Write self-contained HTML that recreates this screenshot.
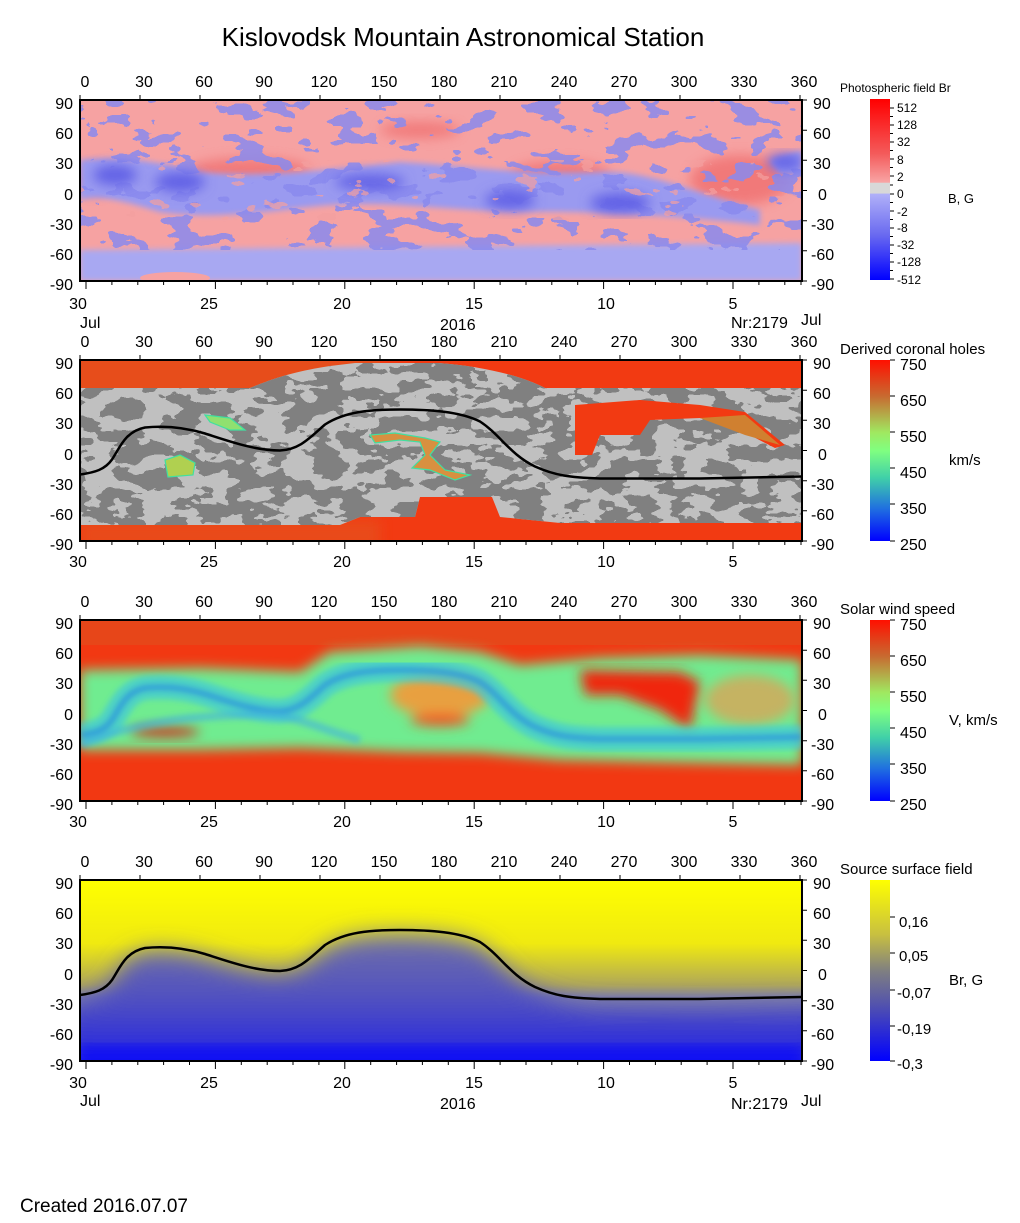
<!DOCTYPE html>
<html><head><meta charset="utf-8"><style>
html,body{margin:0;padding:0;background:#fff;}
svg{display:block;font-family:"Liberation Sans",Arial,sans-serif;}
</style></head><body>
<svg width="1020" height="1223" viewBox="0 0 1020 1223" xmlns="http://www.w3.org/2000/svg">
<defs>
 <clipPath id="pc"><rect x="80" y="0" width="722" height="181"/></clipPath>
 <filter id="n1" x="0" y="0" width="1" height="1">
  <feTurbulence type="fractalNoise" baseFrequency="0.03 0.06" numOctaves="3" seed="7"/>
  <feColorMatrix type="matrix" values="0 0 0 0 0  0 0 0 0 0  0 0 0 0 0  1 0 0 0 0"/>
  <feComponentTransfer result="m"><feFuncA type="discrete" tableValues="0 0 0 0 0 0 1 1 1 1"/></feComponentTransfer>
  <feFlood flood-color="#8a8aee" result="f"/>
  <feComposite in="f" in2="m" operator="in"/>
 </filter>
 <filter id="n1r" x="0" y="0" width="1" height="1">
  <feTurbulence type="fractalNoise" baseFrequency="0.035 0.07" numOctaves="3" seed="21"/>
  <feColorMatrix type="matrix" values="0 0 0 0 0  0 0 0 0 0  0 0 0 0 0  1 0 0 0 0"/>
  <feComponentTransfer result="m"><feFuncA type="discrete" tableValues="0 0 0 0 0 0 0 1 1 1"/></feComponentTransfer>
  <feFlood flood-color="#f4a0a0" result="f"/>
  <feComposite in="f" in2="m" operator="in"/>
 </filter>
 <filter id="ng" x="0" y="0" width="1" height="1">
  <feTurbulence type="fractalNoise" baseFrequency="0.035 0.07" numOctaves="3" seed="4"/>
  <feColorMatrix type="matrix" values="0 0 0 0 0  0 0 0 0 0  0 0 0 0 0  1 0 0 0 0"/>
  <feComponentTransfer result="m"><feFuncA type="discrete" tableValues="0 0 0 0 0 1 1 1 1 1"/></feComponentTransfer>
  <feFlood flood-color="#808080" result="f"/>
  <feComposite in="f" in2="m" operator="in"/>
 </filter>
 <filter id="b3"><feGaussianBlur stdDeviation="3"/></filter>
 <filter id="b6"><feGaussianBlur stdDeviation="6"/></filter>
 <filter id="b12" x="-0.1" y="-0.3" width="1.2" height="1.6"><feGaussianBlur stdDeviation="12"/></filter>
 <linearGradient id="cb1" x1="0" y1="0" x2="0" y2="1">
  <stop offset="0" stop-color="#ff0000"/><stop offset="0.3" stop-color="#f45a5a"/><stop offset="0.46" stop-color="#f8a4a4"/>
  <stop offset="0.465" stop-color="#d8d8d8"/><stop offset="0.52" stop-color="#d8d8d8"/><stop offset="0.525" stop-color="#b0b0f8"/>
  <stop offset="0.75" stop-color="#6a6af0"/><stop offset="1" stop-color="#0000ff"/>
 </linearGradient>
 <linearGradient id="cbj" x1="0" y1="0" x2="0" y2="1">
  <stop offset="0" stop-color="#ff1000"/><stop offset="0.2" stop-color="#c86a30"/><stop offset="0.4" stop-color="#a0e860"/>
  <stop offset="0.5" stop-color="#80ff80"/><stop offset="0.65" stop-color="#40d0a8"/><stop offset="0.82" stop-color="#2070e0"/><stop offset="1" stop-color="#0000ff"/>
 </linearGradient>
 <linearGradient id="cbs" x1="0" y1="0" x2="0" y2="1">
  <stop offset="0" stop-color="#ffff00"/><stop offset="0.3" stop-color="#c8c040"/><stop offset="0.5" stop-color="#808080"/>
  <stop offset="0.7" stop-color="#5050b0"/><stop offset="1" stop-color="#0000ff"/>
 </linearGradient>
 <linearGradient id="p4t" x1="0" y1="0" x2="0" y2="1">
  <stop offset="0" stop-color="#ffff00"/><stop offset="0.35" stop-color="#f0ea10"/><stop offset="0.58" stop-color="#b0a858"/><stop offset="0.65" stop-color="#8888a0"/>
 </linearGradient>
 <linearGradient id="p4b" x1="0" y1="0" x2="0" y2="1">
  <stop offset="0" stop-color="#7070a8"/><stop offset="0.45" stop-color="#5050c0"/><stop offset="0.75" stop-color="#3030d8"/><stop offset="1" stop-color="#0000ff"/>
 </linearGradient>
 <path id="nl" d="M80,115 C95,113 105,110 112,100 C120,88 125,72 145,68 C165,66 185,68 205,74 C230,82 255,91 280,91 C300,90 310,78 325,65 C345,52 370,50 400,50 C430,50 460,52 480,62 C500,75 510,95 535,107 C555,116 570,118 600,119 L700,119 L802,117"/>
 <path id="tt" d="M80,0v-5M140,0v-5M200,0v-5M260,0v-5M320,0v-5M380,0v-5M440,0v-5M500,0v-5M560,0v-5M620,0v-5M680,0v-5M740,0v-5M800,0v-5"/>
 <path id="rt" d="M802,0h5M802,30.2h5M802,60.3h5M802,90.5h5M802,120.7h5M802,150.8h5M802,181h5"/>
 <path id="bt" d="M86,181v8M215.4,181v8M344.8,181v8M474.2,181v8M603.6,181v8M733,181v8M111.9,181v4M137.8,181v4M163.6,181v4M189.5,181v4M241.3,181v4M267.2,181v4M293,181v4M318.9,181v4M370.7,181v4M396.6,181v4M422.4,181v4M448.3,181v4M500.1,181v4M526,181v4M551.8,181v4M577.7,181v4M629.5,181v4M655.4,181v4M681.2,181v4M707.1,181v4M758.9,181v4M784.8,181v4M801,181v4"/>
</defs>

<text x="463" y="46" font-size="26" text-anchor="middle">Kislovodsk Mountain Astronomical Station</text>

<!-- ============ PANEL 1 ============ -->
<g transform="translate(0,100)">
 <g clip-path="url(#pc)">
  <rect x="80" y="0" width="722" height="181" fill="#f6a2a2"/>
  <g fill="#f07070" filter="url(#b6)" opacity="0.8">
   <ellipse cx="250" cy="70" rx="60" ry="12"/><ellipse cx="560" cy="75" rx="50" ry="14"/><ellipse cx="740" cy="80" rx="50" ry="25"/>
   <ellipse cx="95" cy="80" rx="15" ry="14"/><ellipse cx="420" cy="30" rx="40" ry="8"/>
  </g>
  <g fill="#9a9af0" filter="url(#b3)">
   <path d="M80,60 C120,55 160,62 200,72 C260,78 330,70 400,62 C470,66 520,75 600,72 C650,70 700,95 760,110 L760,125 C700,118 600,110 520,112 C430,110 380,98 300,108 C240,115 200,118 160,112 C120,100 100,95 80,100 Z"/>
   <path d="M80,150 L802,143 L802,181 L80,181 Z" fill="#a8a8f2"/>
   <path d="M770,60 L802,50 L802,75 L780,75Z"/>
  </g>
  <rect x="80" y="0" width="722" height="150" filter="url(#n1)" opacity="0.85"/>
  <g fill="#6262e6" filter="url(#b6)">
   <ellipse cx="115" cy="75" rx="22" ry="10"/><ellipse cx="180" cy="82" rx="25" ry="10"/><ellipse cx="370" cy="82" rx="35" ry="8"/>
   <ellipse cx="510" cy="100" rx="25" ry="9"/><ellipse cx="620" cy="103" rx="30" ry="10"/><ellipse cx="785" cy="62" rx="18" ry="8"/>
  </g>
  <rect x="80" y="60" width="722" height="60" filter="url(#n1r)" opacity="0.7"/>
  <ellipse cx="175" cy="178" rx="35" ry="6" fill="#f6a2a2"/>
 </g>
 <rect x="80" y="0" width="722" height="181" fill="none" stroke="#000" stroke-width="2"/>
 <use href="#tt" stroke="#000"/><use href="#rt" stroke="#000"/><use href="#bt" stroke="#000"/>
 <g font-size="16" text-anchor="middle">
  <text x="85" y="-13">0</text><text x="144" y="-13">30</text><text x="204" y="-13">60</text><text x="264" y="-13">90</text><text x="324" y="-13">120</text><text x="384" y="-13">150</text><text x="444" y="-13">180</text><text x="504" y="-13">210</text><text x="564" y="-13">240</text><text x="624" y="-13">270</text><text x="684" y="-13">300</text><text x="744" y="-13">330</text><text x="804" y="-13">360</text>
  <text x="78" y="209">30</text><text x="209" y="209">25</text><text x="342" y="209">20</text><text x="474" y="209">15</text><text x="606" y="209">10</text><text x="733" y="209">5</text>
 </g>
 <g font-size="16" text-anchor="end">
  <text x="73" y="9">90</text><text x="73" y="39">60</text><text x="73" y="69">30</text><text x="73" y="100">0</text><text x="73" y="130">-30</text><text x="73" y="160">-60</text><text x="73" y="190">-90</text>
 </g>
 <g font-size="16" text-anchor="start">
  <text x="813" y="9">90</text><text x="813" y="39">60</text><text x="813" y="69">30</text><text x="818" y="100">0</text><text x="811" y="130">-30</text><text x="811" y="160">-60</text><text x="811" y="190">-90</text>
 </g>
 <text x="80" y="228" font-size="16">Jul</text><text x="440" y="230" font-size="16">2016</text><text x="731" y="228" font-size="16">Nr:2179</text><text x="801" y="225" font-size="16">Jul</text>
 <text x="840" y="-8" font-size="12">Photospheric field Br</text>
 <rect x="870" y="-1" width="20" height="181" fill="url(#cb1)"/>
 <path d="M890,8h4M890,16.5h3M890,25h4M890,33.5h3M890,42h4M890,50.5h3M890,59h4M890,67.5h3M890,76h4M890,85h3M890,94h4M890,102.5h3M890,111h4M890,119.5h3M890,128h4M890,136.5h3M890,145h4M890,153.5h3M890,162h4M890,170.5h3M890,179h4" stroke="#000"/>
 <g font-size="12">
  <text x="897" y="12">512</text><text x="897" y="29">128</text><text x="897" y="46">32</text><text x="897" y="64">8</text><text x="897" y="81">2</text><text x="897" y="98">0</text><text x="897" y="116">-2</text><text x="897" y="132">-8</text><text x="897" y="149">-32</text><text x="897" y="166">-128</text><text x="897" y="184">-512</text>
 </g>
 <text x="948" y="103" font-size="13">B, G</text>
</g>

<!-- ============ PANEL 2 ============ -->
<g transform="translate(0,360)">
 <g clip-path="url(#pc)">
  <rect x="80" y="0" width="722" height="181" fill="#f23a12"/>
  <rect x="80" y="0" width="300" height="30" fill="#e05a22" opacity="0.6"/>
  <rect x="80" y="160" width="300" height="30" fill="#e05a22" opacity="0.5" filter="url(#b6)"/>
  <clipPath id="gc"><path d="M80,28 L250,28 C270,20 290,12 330,6 L355,3 L438,3 C480,6 520,15 545,28 L802,28 L802,163 L560,163 L500,157 L492,137 L420,137 L415,157 L360,157 L340,165 L80,165 Z"/></clipPath>
  <g clip-path="url(#gc)">
   <rect x="80" y="0" width="722" height="181" fill="#c0c0c0"/>
   <rect x="80" y="0" width="722" height="181" filter="url(#ng)"/>
  </g>
  <path d="M575,45 L640,40 L700,45 L745,52 L785,85 L775,88 L740,70 L700,58 L650,60 L640,75 L600,75 L592,95 L575,95 Z" fill="#f23a12"/>
  <path d="M700,58 L745,55 L780,85 L745,75 Z" fill="#d08030"/>
  <g stroke="#40e0a0" stroke-width="1.2">
   <path d="M165,100 L180,95 L195,103 L193,115 L168,117 Z" fill="#b0d050"/>
   <path d="M205,55 L230,58 L245,70 L230,70 L210,62 Z" fill="#90e070"/>
   <path d="M370,75 L395,73 L425,78 L440,82 L430,95 L445,110 L470,115 L455,120 L430,110 L412,108 L425,95 L420,82 L400,80 L375,83 Z" fill="#d89040"/>
  </g>
  <use href="#nl" fill="none" stroke="#000" stroke-width="2.5" transform="translate(0,-0.5)"/>
 </g>
 <rect x="80" y="0" width="722" height="181" fill="none" stroke="#000" stroke-width="2"/>
 <use href="#tt" stroke="#000"/><use href="#rt" stroke="#000"/><use href="#bt" stroke="#000"/>
 <g font-size="16" text-anchor="middle">
  <text x="85" y="-13">0</text><text x="144" y="-13">30</text><text x="204" y="-13">60</text><text x="264" y="-13">90</text><text x="324" y="-13">120</text><text x="384" y="-13">150</text><text x="444" y="-13">180</text><text x="504" y="-13">210</text><text x="564" y="-13">240</text><text x="624" y="-13">270</text><text x="684" y="-13">300</text><text x="744" y="-13">330</text><text x="804" y="-13">360</text>
  <text x="78" y="207">30</text><text x="209" y="207">25</text><text x="342" y="207">20</text><text x="474" y="207">15</text><text x="606" y="207">10</text><text x="733" y="207">5</text>
 </g>
 <g font-size="16" text-anchor="end">
  <text x="73" y="9">90</text><text x="73" y="39">60</text><text x="73" y="69">30</text><text x="73" y="100">0</text><text x="73" y="130">-30</text><text x="73" y="160">-60</text><text x="73" y="190">-90</text>
 </g>
 <g font-size="16">
  <text x="813" y="9">90</text><text x="813" y="39">60</text><text x="813" y="69">30</text><text x="818" y="100">0</text><text x="811" y="130">-30</text><text x="811" y="160">-60</text><text x="811" y="190">-90</text>
 </g>
 <text x="840" y="-6" font-size="15">Derived coronal holes</text>
 <rect x="870" y="0" width="20" height="181" fill="url(#cbj)"/>
 <path d="M890,0h5M890,36h5M890,72h5M890,108h5M890,144h5M890,181h5" stroke="#000"/>
 <g font-size="16"><text x="900" y="10">750</text><text x="900" y="46">650</text><text x="900" y="82">550</text><text x="900" y="118">450</text><text x="900" y="154">350</text><text x="900" y="190">250</text></g>
 <text x="949" y="105" font-size="15">km/s</text>
</g>

<!-- ============ PANEL 3 ============ -->
<g transform="translate(0,620)">
 <g clip-path="url(#pc)">
  <rect x="80" y="0" width="722" height="181" fill="#f23812"/>
  <rect x="80" y="0" width="722" height="25" fill="#e0501e" opacity="0.6"/>
  <path d="M80,50 L200,48 L300,52 L330,32 L420,26 L480,32 L520,45 L600,38 L700,35 L802,40 L802,145 L700,143 L560,140 L480,133 L400,132 L300,128 L200,130 L80,130 Z" fill="#70ec90" filter="url(#b6)"/>
  <g filter="url(#b6)">
   <path d="M580,50 L680,52 L700,62 L690,110 L660,90 L620,75 L585,75 Z" fill="#f02810"/>
   <ellipse cx="440" cy="75" rx="50" ry="22" fill="#e8a040"/>
   <ellipse cx="440" cy="100" rx="30" ry="6" fill="#f05020"/>
   <ellipse cx="165" cy="112" rx="35" ry="4" fill="#e81000"/>
   <ellipse cx="750" cy="80" rx="45" ry="25" fill="#e89a50" opacity="0.7"/>
  </g>
  <g fill="none" filter="url(#b3)">
   <use href="#nl" stroke="#40c8d8" stroke-width="24" opacity="0.7"/>
   <use href="#nl" stroke="#2890e0" stroke-width="6" opacity="0.8"/>
   <path d="M80,125 C140,100 200,95 260,95 C300,95 320,110 360,120" stroke="#40b0e0" stroke-width="8" opacity="0.6"/>
  </g>
 </g>
 <rect x="80" y="0" width="722" height="181" fill="none" stroke="#000" stroke-width="2"/>
 <use href="#tt" stroke="#000"/><use href="#rt" stroke="#000"/><use href="#bt" stroke="#000"/>
 <g font-size="16" text-anchor="middle">
  <text x="85" y="-13">0</text><text x="144" y="-13">30</text><text x="204" y="-13">60</text><text x="264" y="-13">90</text><text x="324" y="-13">120</text><text x="384" y="-13">150</text><text x="444" y="-13">180</text><text x="504" y="-13">210</text><text x="564" y="-13">240</text><text x="624" y="-13">270</text><text x="684" y="-13">300</text><text x="744" y="-13">330</text><text x="804" y="-13">360</text>
  <text x="78" y="207">30</text><text x="209" y="207">25</text><text x="342" y="207">20</text><text x="474" y="207">15</text><text x="606" y="207">10</text><text x="733" y="207">5</text>
 </g>
 <g font-size="16" text-anchor="end">
  <text x="73" y="9">90</text><text x="73" y="39">60</text><text x="73" y="69">30</text><text x="73" y="100">0</text><text x="73" y="130">-30</text><text x="73" y="160">-60</text><text x="73" y="190">-90</text>
 </g>
 <g font-size="16">
  <text x="813" y="9">90</text><text x="813" y="39">60</text><text x="813" y="69">30</text><text x="818" y="100">0</text><text x="811" y="130">-30</text><text x="811" y="160">-60</text><text x="811" y="190">-90</text>
 </g>
 <text x="840" y="-6" font-size="15">Solar wind speed</text>
 <rect x="870" y="0" width="20" height="181" fill="url(#cbj)"/>
 <path d="M890,0h5M890,36h5M890,72h5M890,108h5M890,144h5M890,181h5" stroke="#000"/>
 <g font-size="16"><text x="900" y="10">750</text><text x="900" y="46">650</text><text x="900" y="82">550</text><text x="900" y="118">450</text><text x="900" y="154">350</text><text x="900" y="190">250</text></g>
 <text x="949" y="105" font-size="15">V, km/s</text>
</g>

<!-- ============ PANEL 4 ============ -->
<g transform="translate(0,880)">
 <g clip-path="url(#pc)">
  <rect x="80" y="0" width="722" height="181" fill="url(#p4t)"/>
  <g filter="url(#b12)">
   <path d="M60,125 C95,118 105,112 112,102 C120,90 125,76 145,72 C165,70 185,72 205,78 C230,86 255,95 280,95 C300,94 310,82 325,69 C345,56 370,54 400,54 C430,54 460,56 480,66 C500,79 510,99 535,111 C555,120 570,124 600,126 L700,127 L830,125 L830,200 L60,200 Z" fill="url(#p4b)"/>
  </g>
  <rect x="80" y="165" width="722" height="25" fill="#0000ff" filter="url(#b6)" opacity="0.5"/>
  <use href="#nl" fill="none" stroke="#000" stroke-width="2.5"/>
 </g>
 <rect x="80" y="0" width="722" height="181" fill="none" stroke="#000" stroke-width="2"/>
 <use href="#tt" stroke="#000"/><use href="#rt" stroke="#000"/><use href="#bt" stroke="#000"/>
 <g font-size="16" text-anchor="middle">
  <text x="85" y="-13">0</text><text x="144" y="-13">30</text><text x="204" y="-13">60</text><text x="264" y="-13">90</text><text x="324" y="-13">120</text><text x="384" y="-13">150</text><text x="444" y="-13">180</text><text x="504" y="-13">210</text><text x="564" y="-13">240</text><text x="624" y="-13">270</text><text x="684" y="-13">300</text><text x="744" y="-13">330</text><text x="804" y="-13">360</text>
  <text x="78" y="208">30</text><text x="209" y="208">25</text><text x="342" y="208">20</text><text x="474" y="208">15</text><text x="606" y="208">10</text><text x="733" y="208">5</text>
 </g>
 <g font-size="16" text-anchor="end">
  <text x="73" y="9">90</text><text x="73" y="39">60</text><text x="73" y="69">30</text><text x="73" y="100">0</text><text x="73" y="130">-30</text><text x="73" y="160">-60</text><text x="73" y="190">-90</text>
 </g>
 <g font-size="16">
  <text x="813" y="9">90</text><text x="813" y="39">60</text><text x="813" y="69">30</text><text x="818" y="100">0</text><text x="811" y="130">-30</text><text x="811" y="160">-60</text><text x="811" y="190">-90</text>
 </g>
 <text x="80" y="226" font-size="16">Jul</text><text x="440" y="229" font-size="16">2016</text><text x="731" y="229" font-size="16">Nr:2179</text><text x="801" y="226" font-size="16">Jul</text>
 <text x="840" y="-6" font-size="15">Source surface field</text>
 <rect x="870" y="0" width="20" height="181" fill="url(#cbs)"/>
 <path d="M890,37h5M890,73h5M890,110h5M890,146h5M890,181h5" stroke="#000"/>
 <g font-size="15"><text x="899" y="47">0,16</text><text x="899" y="81">0,05</text><text x="897" y="118">-0,07</text><text x="897" y="154">-0,19</text><text x="897" y="189">-0,3</text></g>
 <text x="949" y="105" font-size="15">Br, G</text>
</g>

<text x="20" y="1212" font-size="19">Created  2016.07.07</text>
</svg>
</body></html>
